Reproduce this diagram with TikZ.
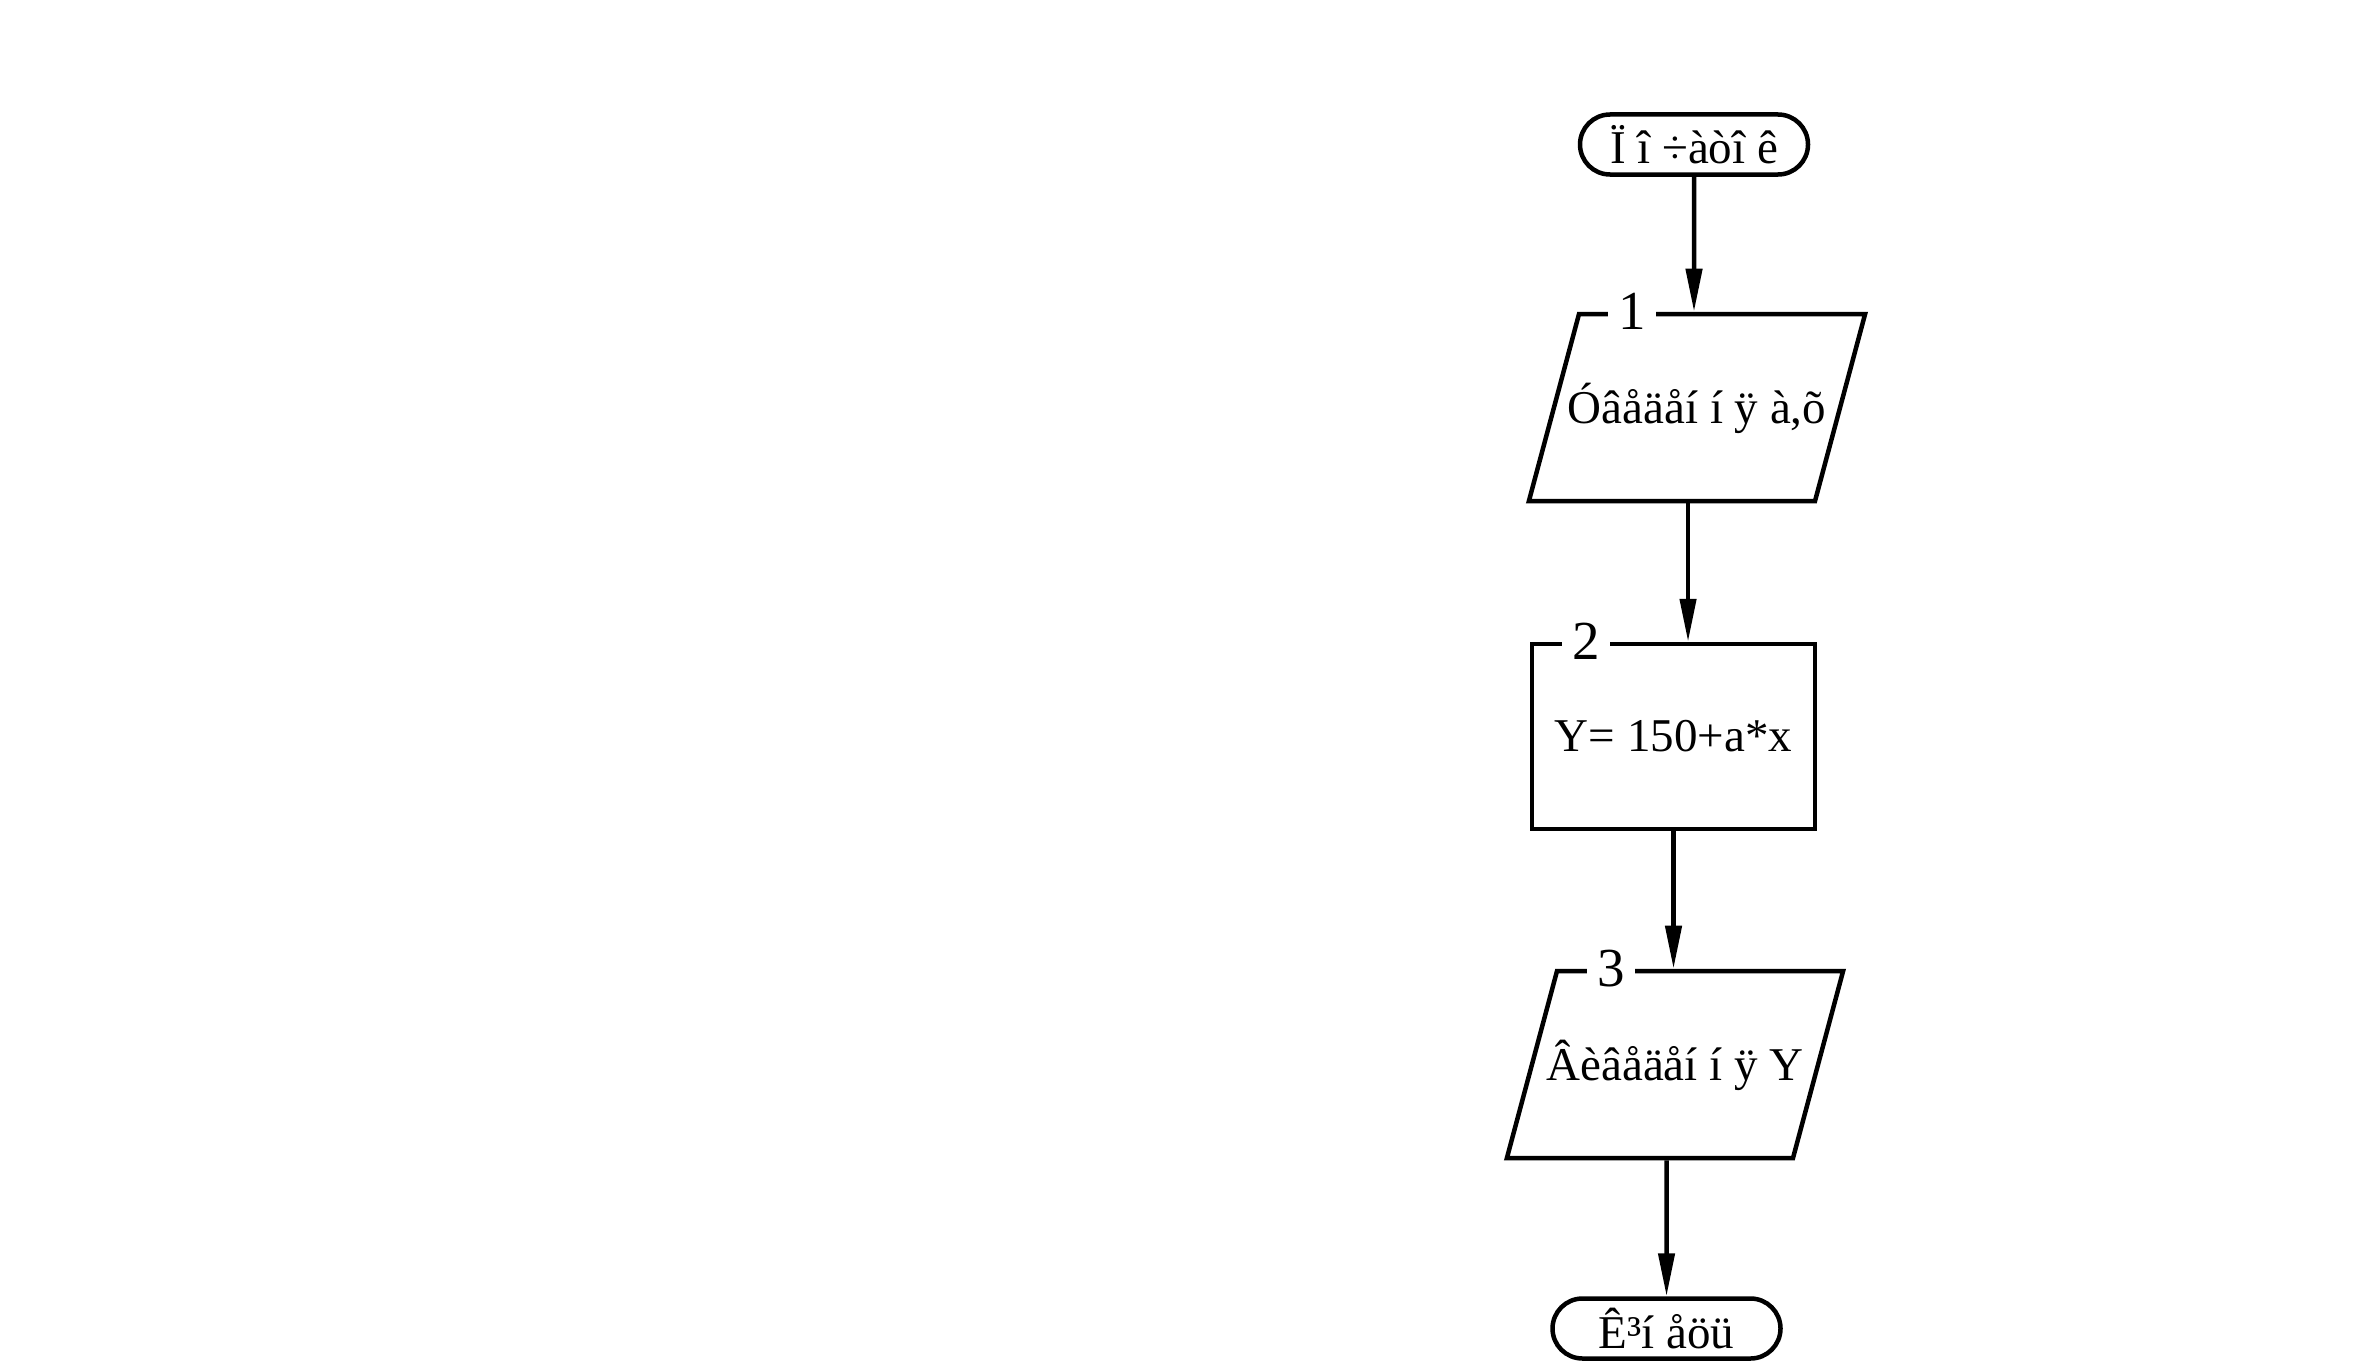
\documentclass[tikz,border=0pt]{standalone}
\usepackage{fontspec}
\setmainfont{Liberation Serif}
\usetikzlibrary{shapes.geometric, shapes.misc, arrows.meta}

\newcommand{\iobox}[1]{\makebox[236pt]{#1}}

\begin{document}
\begin{tikzpicture}[x=1pt, y=-1pt,
	font=\fontsize{47}{56}\selectfont,
	term/.style={rounded rectangle, draw, line width=4.5pt,
		minimum width=228pt, minimum height=60pt, inner sep=0pt},
	io/.style={trapezium, trapezium left angle=75, trapezium right angle=105,
		draw, line width=4.5pt, text height=41pt, text depth=10pt,
		inner xsep=0pt, inner ysep=68pt},
	proc/.style={rectangle, draw, line width=4.5pt,
		minimum width=283pt, minimum height=185pt, inner sep=0pt},
	num/.style={fill=white, inner xsep=10pt, inner ysep=0pt,
		font=\fontsize{55}{60}\selectfont},
	arr/.style={-{Triangle[length=43pt, width=16pt]}, line width=4.5pt}]
\useasboundingbox (0, 0) rectangle (2368, 1370);

\node[term] (start) at (1694, 144.5) {Ï î ÷àòî ê};
\node[io] (in1) at (1697, 407.5) {\iobox{Óâåäåí í ÿ à,õ}};
\node[proc] (calc) at (1673.5, 736.5) {Y= 150+a*x};
\node[io] (out) at (1675, 1064.5) {\iobox{Âèâåäåí í ÿ Y}};
\node[term] (stop) at (1666.5, 1328.5) {Ê³í åöü};

% block numbers on the top edges
\node[num] (n1) at ([xshift=-65pt]in1.north) {1};
\node[num] (n2) at ([xshift=-87.5pt]calc.north) {2};
\node[num] (n3) at ([xshift=-64pt]out.north) {3};

\coordinate (a1) at ([xshift=-9pt]in1.south);
\draw[arr] (start) -- (start |- in1.north);
\draw[arr] (a1) -- (a1 |- calc.north);
\draw[arr] (calc) -- (calc |- out.north);
\draw[arr] (out.south -| stop) -- (stop);

\end{tikzpicture}
\end{document}
